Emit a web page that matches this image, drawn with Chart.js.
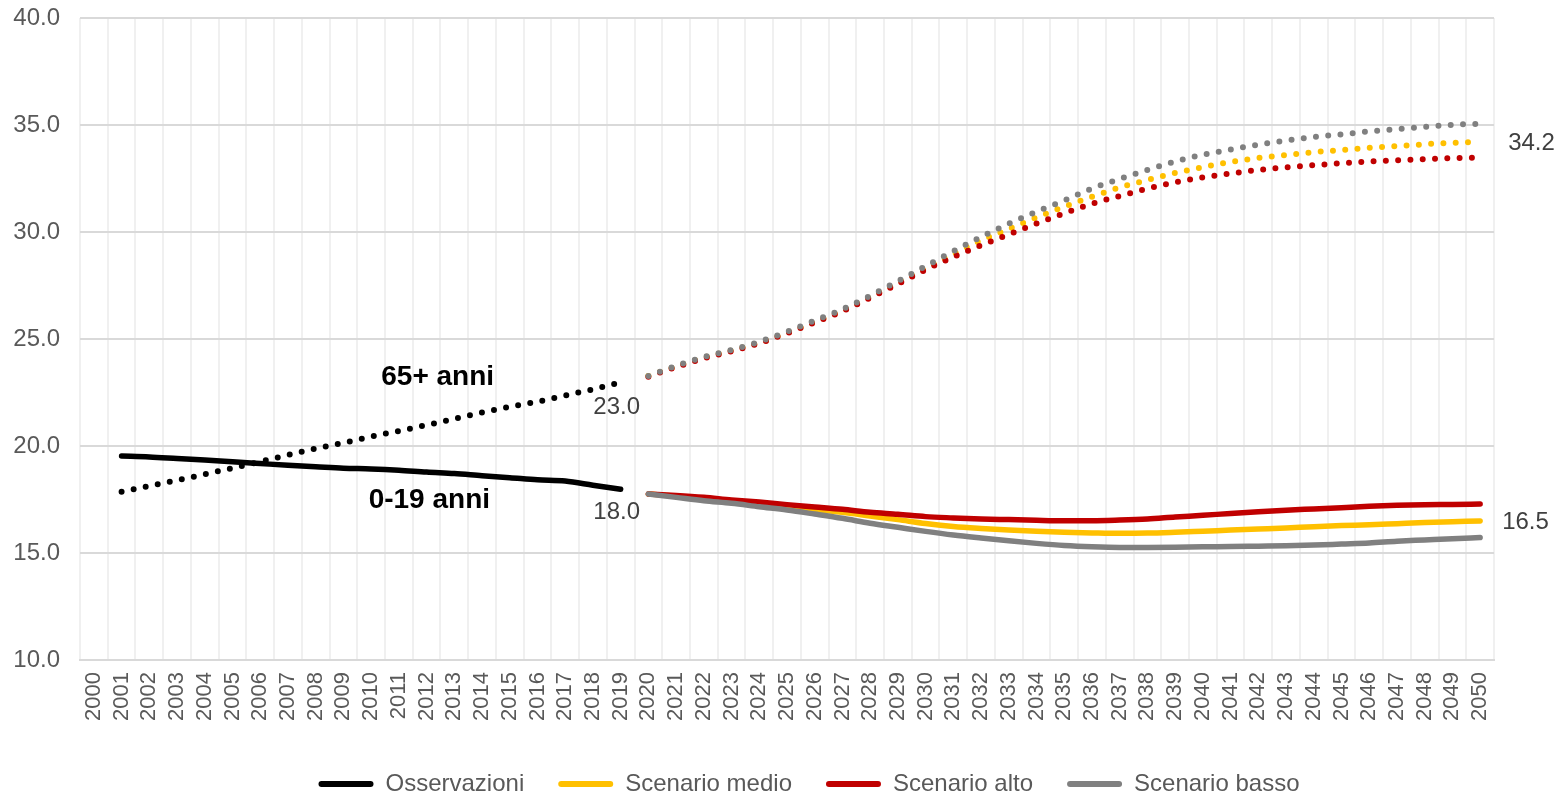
<!DOCTYPE html>
<html>
<head>
<meta charset="utf-8">
<script src="https://cdn.jsdelivr.net/npm/chart.js@4.4.1/dist/chart.umd.min.js"></script>
<style>
  html, body { margin: 0; padding: 0; background: #fff; }
  #wrap { width: 1566px; height: 796px; position: relative; }
</style>
</head>
<body>
<div id="wrap"><canvas id="ageChart"></canvas></div>
<script>
const years = ['2000', '2001', '2002', '2003', '2004', '2005', '2006', '2007', '2008', '2009',
    '2010', '2011', '2012', '2013', '2014', '2015', '2016', '2017', '2018', '2019',
    '2020', '2021', '2022', '2023', '2024', '2025', '2026', '2027', '2028', '2029',
    '2030', '2031', '2032', '2033', '2034', '2035', '2036', '2037', '2038', '2039',
    '2040', '2041', '2042', '2043', '2044', '2045', '2046', '2047', '2048', '2049', '2050'];

const yTicks = [10, 15, 20, 25, 30, 35, 40];

// Osservazioni 2001-2019
const obsYoung = [19.53, 19.49, 19.42, 19.35, 19.26, 19.18, 19.10, 19.03, 18.96, 18.93,
    18.87, 18.78, 18.71, 18.61, 18.52, 18.42, 18.36, 18.17, 17.98];
const obsOld = [17.86, 18.13, 18.40, 18.68, 18.97, 19.27, 19.58, 19.88, 20.15, 20.44,
    20.70, 20.98, 21.27, 21.57, 21.83, 22.07, 22.36, 22.65, 22.98];

// Scenari 2020-2050, 0-19 anni
const medioYoung = [17.76, 17.66, 17.53, 17.40, 17.28, 17.14, 17.02, 16.90, 16.73, 16.56,
    16.38, 16.24, 16.15, 16.08, 16.02, 15.97, 15.94, 15.92, 15.93, 15.97,
    16.02, 16.07, 16.12, 16.17, 16.23, 16.28, 16.32, 16.37, 16.42, 16.46, 16.50];
const altoYoung = [17.76, 17.69, 17.60, 17.48, 17.38, 17.26, 17.15, 17.04, 16.90, 16.81,
    16.70, 16.64, 16.59, 16.56, 16.53, 16.51, 16.51, 16.54, 16.59, 16.68,
    16.76, 16.85, 16.93, 17.00, 17.06, 17.12, 17.18, 17.23, 17.26, 17.27, 17.29];
const bassoYoung = [17.76, 17.60, 17.44, 17.32, 17.16, 17.01, 16.82, 16.62, 16.39, 16.20,
    16.01, 15.84, 15.70, 15.57, 15.45, 15.35, 15.29, 15.26, 15.26, 15.27,
    15.29, 15.30, 15.32, 15.34, 15.37, 15.42, 15.47, 15.55, 15.61, 15.67, 15.72];

// Scenari 2020-2050, 65+ anni
const medioOld = [23.27, 23.72, 24.13, 24.46, 24.83, 25.29, 25.80, 26.33, 26.96, 27.62,
    28.30, 28.97, 29.60, 30.14, 30.68, 31.18, 31.65, 32.08, 32.43, 32.76,
    33.03, 33.27, 33.46, 33.60, 33.73, 33.83, 33.93, 34.01, 34.10, 34.17, 34.21];
const altoOld = [23.24, 23.69, 24.10, 24.43, 24.80, 25.27, 25.78, 26.30, 26.93, 27.57,
    28.24, 28.83, 29.38, 29.89, 30.40, 30.87, 31.32, 31.68, 32.03, 32.32,
    32.55, 32.73, 32.90, 33.02, 33.12, 33.21, 33.29, 33.35, 33.40, 33.45, 33.47];
const bassoOld = [23.27, 23.74, 24.16, 24.49, 24.87, 25.34, 25.86, 26.39, 27.02, 27.70,
    28.40, 29.10, 29.77, 30.39, 30.95, 31.47, 32.03, 32.48, 32.90, 33.29,
    33.61, 33.85, 34.08, 34.27, 34.44, 34.56, 34.70, 34.81, 34.91, 35.01, 35.06];

const groupLabels = [
    { text: '65+ anni', x: 12.4, y: 23.2 },
    { text: '0-19 anni', x: 12.1, y: 17.45 }
];

const black = '#000000';
const yellow = '#FFC000';
const red = '#C00000';
const gray = '#808080';
const tickColor = '#595959';
const fontFamily = "'Liberation Sans', Arial, sans-serif";

// place a short series on the full year axis
const fromYear = (first, vals) => years.map(y => {
    const i = Number(y) - first;
    return (i >= 0 && i < vals.length) ? vals[i] : null;
});

const solid = (label, color, data, order) => ({
    label: label, data: data, borderColor: color, backgroundColor: color,
    borderWidth: 5.5, pointRadius: 0, fill: false, order: order,
    cubicInterpolationMode: 'monotone', borderCapStyle: 'round', borderJoinStyle: 'round'
});
const dotted = (label, color, data, order) => Object.assign(solid(label, color, data, order), {
    borderDash: [0, 12.3], borderWidth: 6
});

const endLabels = {
    id: 'endLabels',
    afterDatasetsDraw(chart) {
        const ctx = chart.ctx;
        const xs = chart.scales.x;
        const ys = chart.scales.y;
        ctx.save();
        ctx.font = '24px ' + fontFamily;
        ctx.fillStyle = '#404040';
        ctx.textBaseline = 'middle';
        const put = (dsIndex, dx, dy, align) => {
            const data = chart.data.datasets[dsIndex].data;
            let last = data.length - 1;
            while (data[last] === null) last--;
            ctx.textAlign = align;
            ctx.fillText(data[last].toFixed(1), xs.getPixelForValue(last) + dx, ys.getPixelForValue(data[last]) + dy);
        };
        put(4, -4, 25, 'center');
        put(0, -4, 23, 'center');
        put(5, 28, 1, 'left');
        put(1, 22, 1, 'left');

        ctx.font = 'bold 28px ' + fontFamily;
        ctx.fillStyle = '#000000';
        ctx.textAlign = 'center';
        groupLabels.forEach(g => {
            ctx.fillText(g.text, xs.getPixelForValue(g.x), ys.getPixelForValue(g.y));
        });
        ctx.restore();
    }
};

// legend is centred on the whole picture, not only on the plot
const legendShift = {
    id: 'legendShift',
    afterLayout(chart) {
        chart.legend.left += 62;
        chart.legend.right += 62;
    }
};

new Chart(document.getElementById('ageChart'), {
    type: 'line',
    data: {
        labels: years,
        datasets: [
            solid('Osservazioni', black, fromYear(2001, obsYoung), 0),
            solid('Scenario medio', yellow, fromYear(2020, medioYoung), 3),
            solid('Scenario alto', red, fromYear(2020, altoYoung), 2),
            solid('Scenario basso', gray, fromYear(2020, bassoYoung), 1),
            dotted('Osservazioni 65+', black, fromYear(2001, obsOld), 0),
            dotted('Scenario medio 65+', yellow, fromYear(2020, medioOld), 3),
            dotted('Scenario alto 65+', red, fromYear(2020, altoOld), 2),
            dotted('Scenario basso 65+', gray, fromYear(2020, bassoOld), 1)
        ]
    },
    options: {
        responsive: true,
        maintainAspectRatio: false,
        animation: false,
        layout: {
            padding: { top: 18, right: 72, left: 0, bottom: 0 }
        },
        plugins: {
            legend: {
                position: 'bottom',
                maxHeight: 58,
                labels: {
                    color: tickColor,
                    font: { family: fontFamily, size: 24, lineHeight: 1 },
                    boxWidth: 55,
                    boxHeight: 6,
                    padding: 34,
                    useBorderRadius: true,
                    borderRadius: 3,
                    filter: item => item.datasetIndex < 4,
                    generateLabels: chart => chart.data.datasets.map((ds, i) => ({
                        text: ds.label,
                        fillStyle: ds.borderColor,
                        strokeStyle: ds.borderColor,
                        lineWidth: 0,
                        borderRadius: 3,
                        datasetIndex: i,
                        fontColor: tickColor
                    }))
                }
            },
            tooltip: { enabled: false }
        },
        scales: {
            x: {
                offset: true,
                grid: {
                    color: '#f0f0f0',
                    lineWidth: 2,
                    offset: true,
                    drawTicks: false
                },
                border: { color: '#d9d9d9', width: 2 },
                ticks: {
                    color: tickColor,
                    font: { family: fontFamily, size: 22 },
                    minRotation: 90,
                    maxRotation: 90,
                    autoSkip: false,
                    padding: 12
                },
                afterFit: scale => {
                    scale.height = 78;
                    scale.paddingLeft = 0;
                    scale.paddingRight = 0;
                }
            },
            y: {
                min: 10,
                max: 40,
                afterBuildTicks: scale => { scale.ticks = yTicks.map(v => ({ value: v })); },
                grid: {
                    color: '#d9d9d9',
                    lineWidth: 2,
                    drawTicks: false
                },
                border: { display: false },
                ticks: {
                    color: tickColor,
                    font: { family: fontFamily, size: 24 },
                    padding: 20,
                    callback: value => Number(value).toFixed(1)
                },
                afterFit: scale => {
                    scale.width = 80;
                    scale.paddingTop = 0;
                    scale.paddingBottom = 0;
                }
            }
        }
    },
    plugins: [endLabels, legendShift]
});
</script>
</body>
</html>
